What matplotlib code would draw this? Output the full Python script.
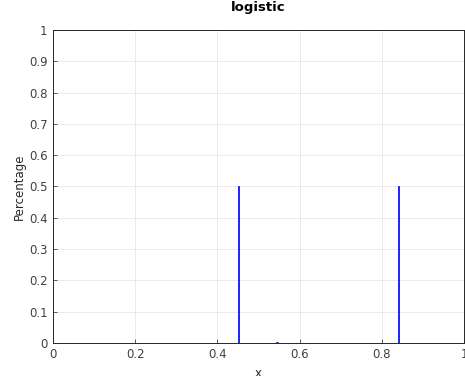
import numpy as np
import matplotlib.pyplot as plt

plt.rcParams.update({
    "font.family": "DejaVu Sans",
    "font.size": 8,
})

# histogram bins (centres) and their share
bin_centers = [0.4512, 0.5445, 0.8406]
percentages = [0.5, 0.004, 0.5]
bin_width = 0.0045

x_ticks = [0, 0.2, 0.4, 0.6, 0.8, 1]
y_ticks = [0, 0.1, 0.2, 0.3, 0.4, 0.5, 0.6, 0.7, 0.8, 0.9, 1]

fig = plt.figure(figsize=(4.65, 3.76), dpi=100)
ax = fig.add_axes([0.114, 0.088, 0.884, 0.832])

ax.bar(bin_centers, percentages, width=bin_width, color="#0000ff",
       edgecolor="#0000ff", linewidth=0.5, zorder=3)

ax.set_xlim(0, 1)
ax.set_ylim(0, 1)
ax.set_xticks(x_ticks)
ax.set_xticklabels(["0", "0.2", "0.4", "0.6", "0.8", "1"])
ax.set_yticks(y_ticks)
ax.set_yticklabels(["0", "0.1", "0.2", "0.3", "0.4", "0.5", "0.6", "0.7",
                    "0.8", "0.9", "1"])
ax.tick_params(direction="in", length=3, width=0.6, colors="#404040",
               labelsize=8.5, top=False, right=False, pad=4)
ax.grid(True, color="#e6e6e6", linewidth=0.6, zorder=0)
ax.set_axisbelow(True)
for s in ax.spines.values():
    s.set_color("#262626")
    s.set_linewidth(0.7)

ax.set_title("logistic", fontsize=9.5, fontweight="bold", pad=14)
ax.set_xlabel("x", fontsize=8.5, color="#262626", labelpad=4)
ax.set_ylabel("Percentage", fontsize=8.5, color="#262626", labelpad=2)

fig.savefig("out.png", dpi=100)
